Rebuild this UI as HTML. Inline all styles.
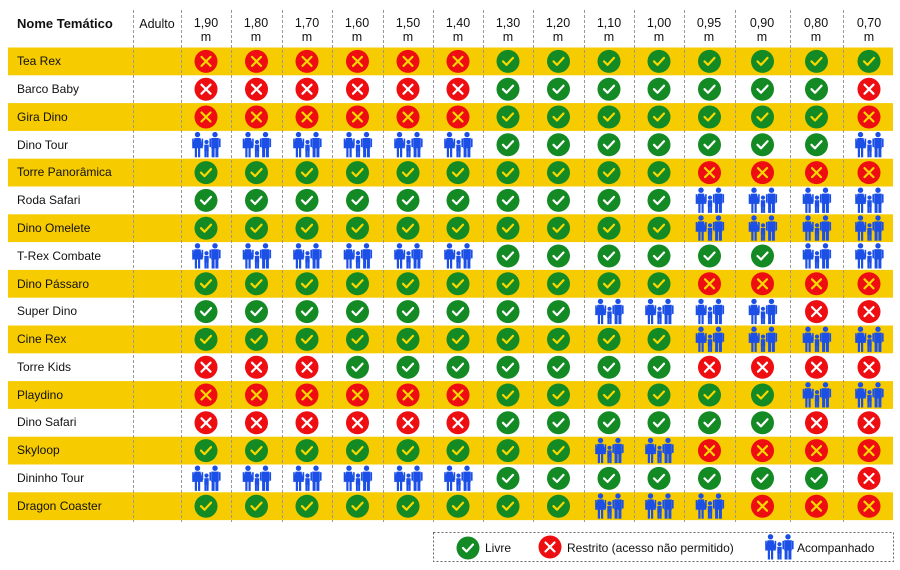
<!DOCTYPE html>
<html><head><meta charset="utf-8">
<style>
body{margin:0;background:#fff;}
#c{position:relative;width:900px;height:570px;overflow:hidden;font-family:"Liberation Sans",Arial,sans-serif;color:#111;}
.t{position:absolute;font-size:12px;white-space:nowrap;}
.h{position:absolute;font-size:12.5px;text-align:center;line-height:14px;width:50px;}
</style></head><body>
<div id="c">
<svg id="g" width="900" height="570" style="position:absolute;left:0;top:0">
<defs>
<symbol id="fam" viewBox="0 0 30 26">
<g fill="#1b4fe6">
<circle cx="6.5" cy="2.8" r="2.7"/>
<polygon points="3.5,6.2 9.5,6.2 12,16.5 1,16.5"/>
<rect x="3.8" y="15" width="2.2" height="10.5"/>
<rect x="7" y="15" width="2.2" height="10.5"/>
<rect x="1.2" y="6.8" width="1.6" height="8"/>
<rect x="10.6" y="6.8" width="1.6" height="8"/>
<circle cx="15.5" cy="10.2" r="2.1"/>
<rect x="13.3" y="12.8" width="4.4" height="6.5"/>
<rect x="13.4" y="18.5" width="2" height="7"/>
<rect x="15.6" y="18.5" width="2" height="7"/>
<circle cx="24" cy="2.8" r="2.7"/>
<rect x="20.2" y="6.2" width="7.6" height="10.3"/>
<rect x="20.6" y="15.5" width="3" height="10"/>
<rect x="24.4" y="15.5" width="3" height="10"/>
<rect x="18.4" y="6.8" width="1.6" height="8.5"/>
<rect x="28" y="6.8" width="1.6" height="8.5"/>
</g>
</symbol>
</defs>
</svg>
<div class="t" style="left:17px;top:16px;font-weight:bold;font-size:13px">Nome Temático</div>
<div class="h" style="left:132px;top:17px">Adulto</div>
<div class="h" style="left:181px;top:16px">1,90<br>m</div>
<div class="h" style="left:231px;top:16px">1,80<br>m</div>
<div class="h" style="left:282px;top:16px">1,70<br>m</div>
<div class="h" style="left:332px;top:16px">1,60<br>m</div>
<div class="h" style="left:383px;top:16px">1,50<br>m</div>
<div class="h" style="left:433px;top:16px">1,40<br>m</div>
<div class="h" style="left:483px;top:16px">1,30<br>m</div>
<div class="h" style="left:533px;top:16px">1,20<br>m</div>
<div class="h" style="left:584px;top:16px">1,10<br>m</div>
<div class="h" style="left:634px;top:16px">1,00<br>m</div>
<div class="h" style="left:684px;top:16px">0,95<br>m</div>
<div class="h" style="left:737px;top:16px">0,90<br>m</div>
<div class="h" style="left:791px;top:16px">0,80<br>m</div>
<div class="h" style="left:844px;top:16px">0,70<br>m</div>
<div class="t" style="left:17px;top:54px">Tea Rex</div>
<div class="t" style="left:17px;top:82px">Barco Baby</div>
<div class="t" style="left:17px;top:110px">Gira Dino</div>
<div class="t" style="left:17px;top:138px">Dino Tour</div>
<div class="t" style="left:17px;top:165px">Torre Panorâmica</div>
<div class="t" style="left:17px;top:193px">Roda Safari</div>
<div class="t" style="left:17px;top:221px">Dino Omelete</div>
<div class="t" style="left:17px;top:249px">T-Rex Combate</div>
<div class="t" style="left:17px;top:277px">Dino Pássaro</div>
<div class="t" style="left:17px;top:304px">Super Dino</div>
<div class="t" style="left:17px;top:332px">Cine Rex</div>
<div class="t" style="left:17px;top:360px">Torre Kids</div>
<div class="t" style="left:17px;top:388px">Playdino</div>
<div class="t" style="left:17px;top:415px">Dino Safari</div>
<div class="t" style="left:17px;top:443px">Skyloop</div>
<div class="t" style="left:17px;top:471px">Dininho Tour</div>
<div class="t" style="left:17px;top:499px">Dragon Coaster</div>
<div class="t" style="left:485px;top:541px">Livre</div>
<div class="t" style="left:567px;top:541px">Restrito (acesso não permitido)</div>
<div class="t" style="left:797px;top:541px">Acompanhado</div>
</div>
<script>
var g=document.getElementById('g'),NS='http://www.w3.org/2000/svg';
function el(t,a){var e=document.createElementNS(NS,t);for(var k in a)e.setAttribute(k,a[k]);g.appendChild(e);return e;}
var y0=47.5,h=27.8;
for(var r=0;r<17;r+=2)el('rect',{x:8,y:y0+r*h,width:885,height:h,fill:'#f6cb00'});
var B=[133,181,231,282,332,383,433,483,533,584,634,684,735,790,843];
B.forEach(function(x){el('line',{x1:x+.5,y1:10,x2:x+.5,y2:522,stroke:'#999','stroke-width':1,'stroke-dasharray':'3,2'});});
var C=[206,256.5,307,357.5,408,458,508,558.5,609,659,709.5,762.5,816.5,869];
function icon(t,cx,cy,yel){
 var mk=yel?'#f8d800':'#fff';
 if(t=='A'){el('use',{href:'#fam',x:cx-15,y:cy-13,width:30,height:26});return;}
 if(t=='G'){el('circle',{cx:cx,cy:cy,r:11.5,fill:'#138a24'});
  el('polyline',{points:(cx-5)+','+(cy)+' '+(cx-1.5)+','+(cy+3.5)+' '+(cx+5)+','+(cy-3.5),fill:'none',stroke:mk,'stroke-width':2.2,'stroke-linecap':'round','stroke-linejoin':'round'});}
 else{el('circle',{cx:cx,cy:cy,r:11.5,fill:'#ee0d10'});
  el('path',{d:'M'+(cx-4.5)+' '+(cy-4.5)+'L'+(cx+4.5)+' '+(cy+4.5)+'M'+(cx+4.5)+' '+(cy-4.5)+'L'+(cx-4.5)+' '+(cy+4.5),stroke:mk,'stroke-width':2.2,'stroke-linecap':'round'});}
}
var D=['RRRRRRGGGGGGGG','RRRRRRGGGGGGGR','RRRRRRGGGGGGGR','AAAAAAGGGGGGGA',
'GGGGGGGGGGRRRR','GGGGGGGGGGAAAA','GGGGGGGGGGAAAA','AAAAAAGGGGGGAA',
'GGGGGGGGGGRRRR','GGGGGGGGAAAARR','GGGGGGGGGGAAAA','RRRGGGGGGGRRRR',
'RRRRRRGGGGGGAA','RRRRRRGGGGGGRR','GGGGGGGGAARRRR','AAAAAAGGGGGGGR','GGGGGGGGAAARRR'];
D.forEach(function(s,r){for(var i=0;i<14;i++)icon(s[i],C[i],y0+r*h+h/2,r%2==0);});
el('rect',{x:433.5,y:532.5,width:460,height:29,fill:'none',stroke:'#666','stroke-dasharray':'2,2'});
icon('G',468,548,false);icon('R',550,547,false);icon('A',779,547,false);
</script>
</body></html>
